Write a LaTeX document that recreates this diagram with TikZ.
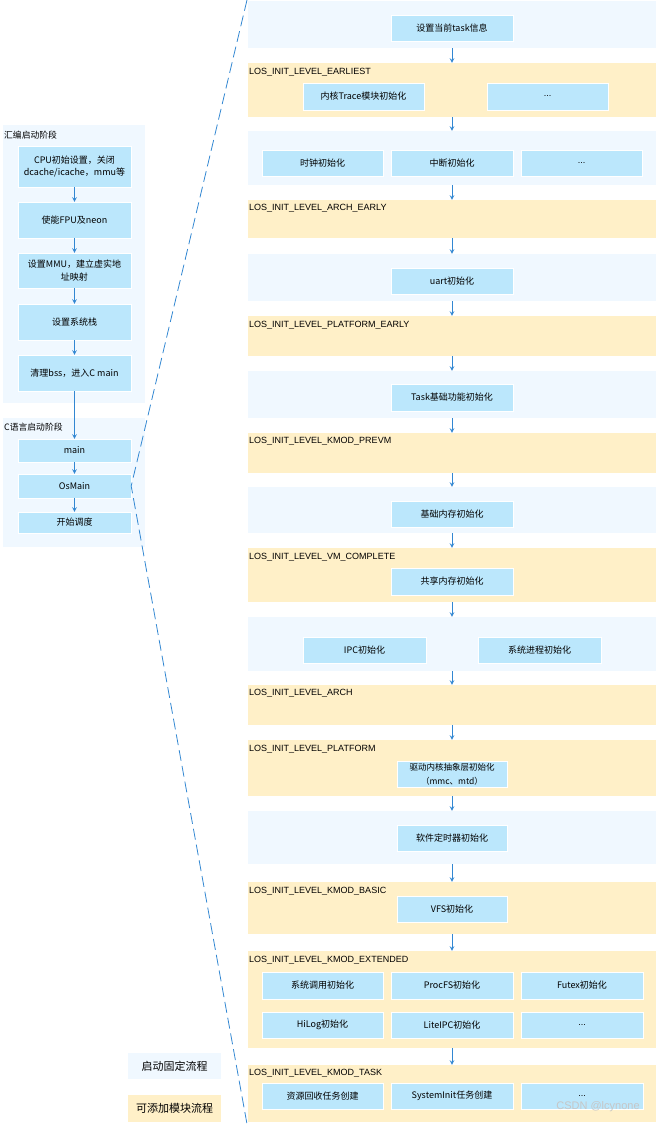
\documentclass[tikz,border=0pt]{standalone}
\usepackage{fontspec}
\setmainfont{Noto Sans CJK SC}
\newfontfamily\latinfont{Liberation Sans}
\usepackage{tikz}
\usetikzlibrary{shapes.geometric, arrows}
\definecolor{panelblue}{RGB}{240,248,255}
\definecolor{panelorange}{RGB}{255,240,200}
\definecolor{boxblue}{RGB}{187,231,252}
\definecolor{flowblue}{RGB}{50,135,210}
\tikzstyle{fixed} = [rectangle, minimum width=408pt, inner sep=0pt, fill=panelblue]
\tikzstyle{addable} = [rectangle, minimum width=408pt, inner sep=0pt, fill=panelorange]
\tikzstyle{stage} = [rectangle, minimum width=142pt, inner sep=0pt, fill=panelblue]
\tikzstyle{process} = [rectangle, minimum width=122pt, minimum height=26pt, inner sep=1pt, text centered, align=center, draw=white, fill=boxblue, font=\fontsize{9}{12.5}\selectfont]
\tikzstyle{startbox} = [process, minimum width=113pt]
\tikzstyle{level} = [anchor=west, inner sep=0pt, font=\latinfont\fontsize{9}{10}\selectfont]
\tikzstyle{title} = [anchor=west, inner sep=0pt, font=\fontsize{8.8}{10}\selectfont]
\tikzstyle{legend} = [rectangle, minimum width=93pt, inner sep=0pt, font=\fontsize{11}{12}\selectfont]
\tikzstyle{arrow} = [line width=1pt,->,>=stealth,draw=flowblue]
\tikzstyle{zoomline} = [draw=flowblue, line width=0.8pt, dash pattern=on 11pt off 5pt]
\newcommand{\moredots}{{\latinfont ...}}

\begin{document}
\begin{tikzpicture}[x=1pt, y=-1pt]
		\useasboundingbox (0,0) rectangle (658,1124);
		
		% left side: startup stages
		\node (asm) [stage, minimum height=278pt] at (74,264) {};
		\node (asmtitle) [title] at (4,135) {汇编启动阶段};
		\node (cpu) [startbox, minimum height=41pt] at (74.5,166.5) {CPU初始设置，关闭\\dcache/icache，mmu等};
		\node (fpu) [startbox, minimum height=36pt] at (74.5,220) {使能FPU及neon};
		\node (mmu) [startbox, minimum height=35pt] at (74.5,270.5) {设置MMU，建立虚实地\\址映射};
		\node (stack) [startbox, minimum height=36pt] at (74.5,322) {设置系统栈};
		\node (bss) [startbox, minimum height=36pt] at (74.5,373) {清理bss，进入C main};
		
		\node (cstage) [stage, minimum height=129pt] at (74,482.5) {};
		\node (ctitle) [title] at (4,427) {C语言启动阶段};
		\node (main) [startbox, minimum height=23pt] at (74.5,450.5) {main};
		\node (osmain) [startbox, minimum height=24pt] at (74.5,486) {OsMain};
		\node (sched) [startbox, minimum height=21pt] at (74.5,522.5) {开始调度};
		
		\draw [arrow] (cpu) -- (fpu);
		\draw [arrow] (fpu) -- (mmu);
		\draw [arrow] (mmu) -- (stack);
		\draw [arrow] (stack) -- (bss);
		\draw [arrow] (bss) -- (main);
		\draw [arrow] (main) -- (osmain);
		\draw [arrow] (osmain) -- (sched);
		
		% right side: OsMain in detail
		\node (p1) [fixed, minimum height=47pt] at (452,24.5) {};
		\node (p2) [addable, minimum height=54pt] at (452,90) {};
		\node (p3) [fixed, minimum height=54pt] at (452,158) {};
		\node (p4) [addable, minimum height=38pt] at (452,219) {};
		\node (p5) [fixed, minimum height=47pt] at (452,277.5) {};
		\node (p6) [addable, minimum height=40pt] at (452,336) {};
		\node (p7) [fixed, minimum height=47pt] at (452,394.5) {};
		\node (p8) [addable, minimum height=40pt] at (452,453) {};
		\node (p9) [fixed, minimum height=46pt] at (452,510) {};
		\node (p10) [addable, minimum height=54pt] at (452,575) {};
		\node (p11) [fixed, minimum height=54pt] at (452,644) {};
		\node (p12) [addable, minimum height=40pt] at (452,705) {};
		\node (p13) [addable, minimum height=56pt] at (452,768) {};
		\node (p14) [fixed, minimum height=53pt] at (452,837.5) {};
		\node (p15) [addable, minimum height=52pt] at (452,908) {};
		\node (p16) [addable, minimum height=97pt] at (452,999.5) {};
		\node (p17) [addable, minimum height=57pt] at (452,1093.5) {};
		
		\node (l2) [level] at (249,72) {LOS\_INIT\_LEVEL\_EARLIEST};
		\node (l4) [level] at (249,208) {LOS\_INIT\_LEVEL\_ARCH\_EARLY};
		\node (l6) [level] at (249,325) {LOS\_INIT\_LEVEL\_PLATFORM\_EARLY};
		\node (l8) [level] at (249,441) {LOS\_INIT\_LEVEL\_KMOD\_PREVM};
		\node (l10) [level] at (249,557) {LOS\_INIT\_LEVEL\_VM\_COMPLETE};
		\node (l12) [level] at (249,693) {LOS\_INIT\_LEVEL\_ARCH};
		\node (l13) [level] at (249,749) {LOS\_INIT\_LEVEL\_PLATFORM};
		\node (l15) [level] at (249,891) {LOS\_INIT\_LEVEL\_KMOD\_BASIC};
		\node (l16) [level] at (249,960) {LOS\_INIT\_LEVEL\_KMOD\_EXTENDED};
		\node (l17) [level] at (249,1073) {LOS\_INIT\_LEVEL\_KMOD\_TASK};
		
		\node (task) [process] at (452,28) {设置当前task信息};
		\node (trace) [process, minimum width=121pt, minimum height=27pt] at (363.5,96.5) {内核Trace模块初始化};
		\node (more1) [process, minimum width=121pt, minimum height=27pt] at (547.5,96.5) {\moredots};
		\node (clock) [process, minimum width=121pt] at (322.5,163) {时钟初始化};
		\node (irq) [process] at (452,163) {中断初始化};
		\node (more2) [process, minimum width=121pt] at (581.5,163) {\moredots};
		\node (uart) [process] at (452,281) {uart初始化};
		\node (taskbase) [process, minimum height=27pt] at (452,397.5) {Task基础功能初始化};
		\node (mem) [process] at (452,514) {基础内存初始化};
		\node (shm) [process, minimum height=27pt] at (452,581.5) {共享内存初始化};
		\node (ipc) [process, minimum width=123pt] at (364.5,650) {IPC初始化};
		\node (proc) [process, minimum width=123pt] at (539.5,650) {系统进程初始化};
		\node (hdf) [process, minimum width=110pt, font=\fontsize{8.5}{14}\selectfont] at (452,774) {驱动内核抽象层初始化\\（mmc、mtd）};
		\node (swtmr) [process, minimum width=110pt] at (452,838) {软件定时器初始化};
		\node (vfs) [process, minimum width=110pt] at (452,909) {VFS初始化};
		\node (syscall) [process, minimum width=121pt, minimum height=27pt] at (322.5,985.5) {系统调用初始化};
		\node (procfs) [process, minimum height=27pt] at (452,985.5) {ProcFS初始化};
		\node (futex) [process, minimum height=27pt] at (582,985.5) {Futex初始化};
		\node (hilog) [process, minimum width=121pt] at (322.5,1025) {HiLog初始化};
		\node (liteipc) [process] at (452,1025) {LiteIPC初始化};
		\node (more3) [process] at (582,1025) {\moredots};
		\node (recycle) [process, minimum width=121pt] at (322.5,1096) {资源回收任务创建};
		\node (sysinit) [process] at (452,1096) {SystemInit任务创建};
		\node (more4) [process] at (582,1096) {\moredots};
		
		\draw [arrow] (p1) -- (p2);
		\draw [arrow] (p2) -- (p3);
		\draw [arrow] (p3) -- (p4);
		\draw [arrow] (p4) -- (p5);
		\draw [arrow] (p5) -- (p6);
		\draw [arrow] (p6) -- (p7);
		\draw [arrow] (p7) -- (p8);
		\draw [arrow] (p8) -- (p9);
		\draw [arrow] (p9) -- (p10);
		\draw [arrow] (p10) -- (p11);
		\draw [arrow] (p11) -- (p12);
		\draw [arrow] (p12) -- (p13);
		\draw [arrow] (p13) -- (p14);
		\draw [arrow] (p14) -- (p15);
		\draw [arrow] (p15) -- (p16);
		\draw [arrow] (p16) -- (p17);
		
		% zoom lines from OsMain
		\coordinate (zoomtop) at (247,0);
		\coordinate (zoombottom) at (247,1124);
		\draw [zoomline] (zoomtop) -- (osmain.east) -- (zoombottom);
		
		% legend
		\node (fixedkey) [legend, fill=panelblue, minimum height=26pt] at (174.5,1066) {启动固定流程};
		\node (addkey) [legend, fill=panelorange, minimum height=27pt] at (174.5,1108.5) {可添加模块流程};
		
		\node (mark) [text=gray!45, font=\latinfont\fontsize{11}{12}\selectfont] at (598,1107) {CSDN @lcynone};
		
		\end{tikzpicture}
\end{document}
